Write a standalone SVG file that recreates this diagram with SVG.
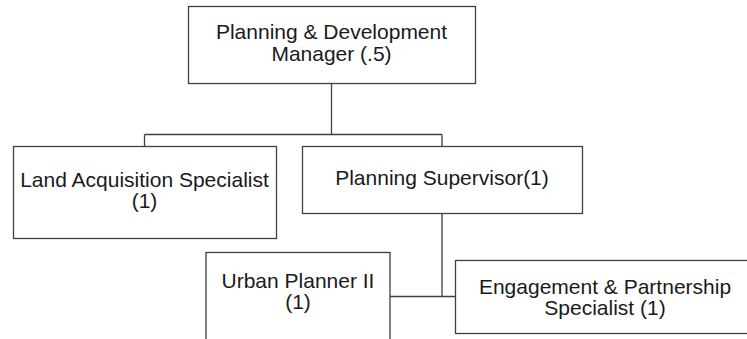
<svg xmlns="http://www.w3.org/2000/svg" width="747" height="339" viewBox="0 0 747 339">
<style>
.box{fill:#fff;stroke:#404040;stroke-width:1.3}
.t{font-family:"Liberation Sans",Arial,sans-serif;font-size:21px;fill:#1a1a1a;text-anchor:middle}
.c{fill:none;stroke:#404040;stroke-width:1.3}
</style>
<rect width="747" height="339" fill="#fff"/>
<g id="connectors">
<path class="c" d="M331.5 83.5V134.5M144.5 134.5H442M144.5 134.5V146.5M442 134.5V146.5"/>
<path class="c" d="M442 213.5V296.5M390 296.5H455.5"/>
</g>
<g id="manager">
<rect class="box" x="188.5" y="6.5" width="287" height="77"/>
<text class="t" x="331.5" y="39">Planning &amp; Development</text>
<text class="t" x="331.5" y="60.5">Manager (.5)</text>
</g>
<g id="land">
<rect class="box" x="13.5" y="146.5" width="263" height="92"/>
<text class="t" x="144.5" y="186.5">Land Acquisition Specialist</text>
<text class="t" x="144.5" y="208">(1)</text>
</g>
<g id="supervisor">
<rect class="box" x="302.5" y="146.5" width="280" height="67"/>
<text class="t" x="442" y="185">Planning Supervisor(1)</text>
</g>
<g id="urban">
<rect class="box" x="206" y="252.5" width="184" height="100"/>
<text class="t" x="298" y="287.5">Urban Planner II</text>
<text class="t" x="298" y="309">(1)</text>
</g>
<g id="engagement">
<rect class="box" x="455.5" y="260.5" width="305" height="73"/>
<text class="t" x="605" y="293.5">Engagement &amp; Partnership</text>
<text class="t" x="605" y="315">Specialist (1)</text>
</g>
</svg>
